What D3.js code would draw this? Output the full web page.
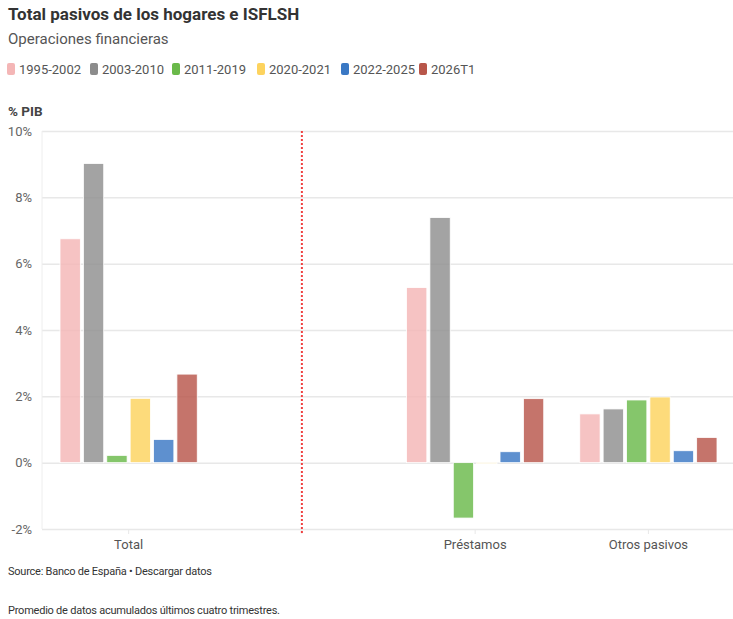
<!DOCTYPE html>
<html><head><meta charset="utf-8">
<script src="https://cdn.jsdelivr.net/npm/d3@7"></script>
<style>
body{margin:0;background:#fff;font-family:Roboto, "Noto Sans", sans-serif;}
</style></head>
<body><svg id="c" width="733" height="619"></svg>
<script>
const categories = ["Total", "", "Préstamos", "Otros pasivos"];
const seriesNames = ["1995-2002", "2003-2010", "2011-2019", "2020-2021", "2022-2025", "2026T1"];
const barColors = ["#f4b6b6", "#8f8f8f", "#6ab94a", "#fdd35e", "#3a78c4", "#b8564a"];
const legendColors = ["#f4b6b6", "#8c8c8c", "#6ab94a", "#fdd35e", "#3a78c4", "#b8564a"];
// values per series, aligned with categories (null = no bar)
const s1995 = [6.75, null, 5.28, 1.47];
const s2003 = [9.02, null, 7.39, 1.62];
const s2011 = [0.22, null, -1.67, 1.89];
const s2020 = [1.94, null, -0.03, 1.98];
const s2022 = [0.70, null, 0.33, 0.36];
const s2026 = [2.67, null, 1.93, 0.76];
const yTicks = [-2, 0, 2, 4, 6, 8, 10];
const seriesValues = [s1995, s2003, s2011, s2020, s2022, s2026];

const svg = d3.select("#c");
const x0 = d3.scaleBand().domain(categories).range([42, 735]).padding(0);
const x1 = d3.scaleBand().domain(seriesNames).range([0, x0.bandwidth()]).paddingInner(0.13).paddingOuter(0.77);
const y = d3.scaleLinear().domain([-2, 10]).range([529, 131]);

// title etc
svg.append("text").attr("x", 8).attr("y", 20).attr("font-size", 17).attr("font-weight", 700).attr("fill", "#333").text("Total pasivos de los hogares e ISFLSH");
svg.append("text").attr("x", 8).attr("y", 44).attr("font-size", 15).attr("fill", "#555").text("Operaciones financieras");

const legX = [7, 90, 172, 257, 341, 419];
const leg = svg.append("g");
seriesNames.forEach((n, i) => {
  const g = leg.append("g").attr("transform", `translate(${legX[i]},63)`);
  g.append("rect").attr("width", 8).attr("height", 12).attr("rx", 2).attr("fill", legendColors[i]);
  g.append("text").attr("x", 12).attr("y", 11).attr("font-size", 13).attr("fill", "#555").text(n);
});

svg.append("text").attr("x", 8).attr("y", 116).attr("font-size", 13.5).attr("font-weight", 700).attr("fill", "#444").text("% PIB");

// grid
const yAxis = d3.axisLeft(y).tickValues(yTicks).tickFormat(d => d + "%").tickSize(-(733 - 42)).tickPadding(10);
const gy = svg.append("g").attr("transform", "translate(42,0)").call(yAxis);
gy.select(".domain").remove();
gy.selectAll(".tick line").attr("stroke", "#e8e8e8").attr("stroke-width", 1.5);
gy.selectAll(".tick text").attr("font-size", 13).attr("fill", "#666").attr("font-family", "Roboto").attr("dx", 0);
svg.append("line").attr("x1", 42).attr("x2", 42).attr("y1", 131).attr("y2", 529).attr("stroke", "#eee");

// x axis
const xAxis = d3.axisBottom(x0).tickSize(5).tickPadding(6);
const gx = svg.append("g").attr("transform", "translate(0,529)").call(xAxis);
gx.select(".domain").remove();
gx.selectAll(".tick line").attr("stroke", "#e8e8e8");
gx.selectAll(".tick text").attr("font-size", 13).attr("fill", "#555").attr("font-family", "Roboto");

// bars
seriesValues.forEach((vals, si) => {
  svg.append("g").selectAll("rect").data(vals.map((v, ci) => ({v, c: categories[ci]})).filter(d => d.v !== null))
    .join("rect")
    .attr("x", d => x0(d.c) + x1(seriesNames[si]))
    .attr("width", x1.bandwidth())
    .attr("y", d => y(Math.max(0, d.v)))
    .attr("height", d => Math.max(1, Math.abs(y(d.v) - y(0))))
    .attr("fill", barColors[si]).attr("fill-opacity", 0.82)
    .attr("stroke", "#fff").attr("stroke-width", 0.8);
});

// dotted divider at empty category
const xc = x0("") + x0.bandwidth() / 2;
svg.append("line").attr("x1", xc).attr("x2", xc).attr("y1", 131).attr("y2", 533)
  .attr("stroke", "#f04040").attr("stroke-width", 2).attr("stroke-dasharray", "2,2");

svg.append("text").attr("x", 8).attr("y", 575).attr("font-size", 11).attr("fill", "#333").attr("textLength", 204).text("Source: Banco de España • Descargar datos");
svg.append("text").attr("x", 8).attr("y", 614).attr("font-size", 11).attr("fill", "#333").attr("textLength", 272).text("Promedio de datos acumulados últimos cuatro trimestres.");
</script></body></html>
